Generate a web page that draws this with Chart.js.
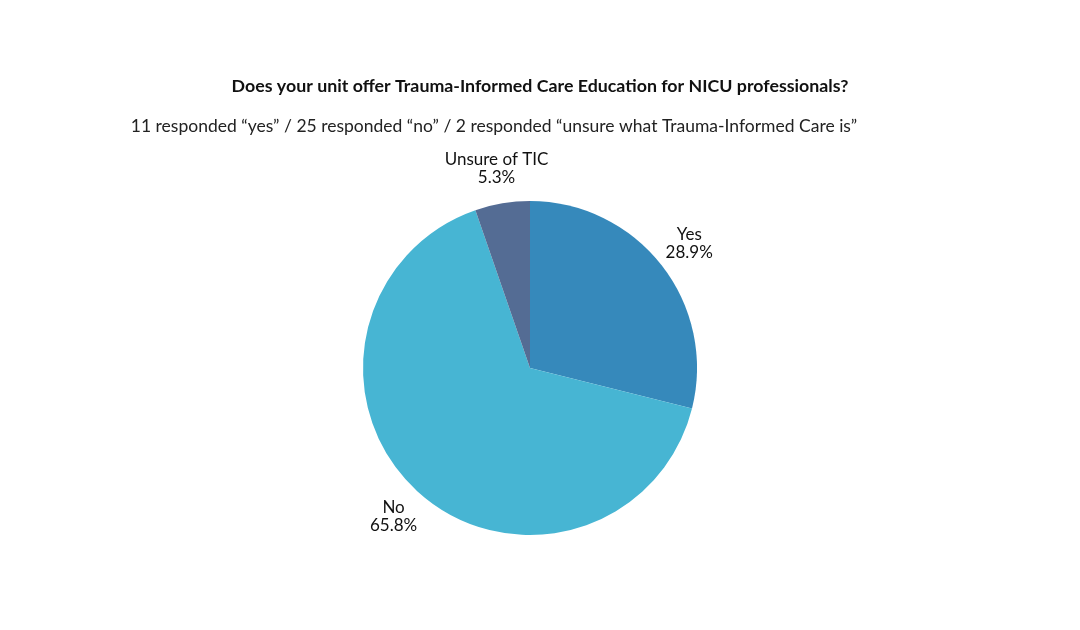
<!DOCTYPE html>
<html>
<head>
<meta charset="utf-8">
<script src="https://cdn.jsdelivr.net/npm/chart.js@4/dist/chart.umd.min.js"></script>
<style>
  html, body { margin: 0; padding: 0; background: #ffffff; }
  #wrap { width: 1080px; height: 630px; position: relative; }
</style>
</head>
<body>
<div id="wrap"><canvas id="pieChart" width="1080" height="630"></canvas></div>
<script>
const categories = ['Yes', 'No', 'Unsure of TIC'];
const percents = [28.9, 65.8, 5.3];
const sliceColors = ['#3689bb', '#47b5d3', '#546c94'];
const titleText = 'Does your unit offer Trauma-Informed Care Education for NICU professionals?';
const subtitleText = '11 responded \u201cyes\u201d / 25 responded \u201cno\u201d / 2 responded \u201cunsure what Trauma-Informed Care is\u201d';

const headerAndLabels = {
  id: 'headerAndLabels',
  afterDraw(chart) {
    const ctx = chart.ctx;
    ctx.save();
    ctx.fillStyle = '#111';
    ctx.textAlign = 'center';
    ctx.textBaseline = 'middle';
    ctx.font = 'bold 17.8px Lato';
    ctx.fillText(titleText, 540, 86);
    ctx.font = '17.5px Lato';
    ctx.fillStyle = '#222';
    ctx.fillText(subtitleText, 494, 126);

    ctx.font = '17px Lato';
    ctx.fillStyle = '#111';
    chart.getDatasetMeta(0).data.forEach((arc, i) => {
      const mid = (arc.startAngle + arc.endAngle) / 2;
      const d = arc.outerRadius + 35;
      const x = arc.x + Math.cos(mid) * d;
      const y = arc.y + Math.sin(mid) * d;
      ctx.fillText(categories[i], x, y - 9);
      ctx.fillText(percents[i].toFixed(1) + '%', x, y + 9);
    });
    ctx.restore();
  }
};

new Chart(document.getElementById('pieChart'), {
  type: 'pie',
  data: {
    labels: categories,
    datasets: [{
      data: percents,
      backgroundColor: sliceColors,
      borderWidth: 0
    }]
  },
  options: {
    responsive: false,
    animation: false,
    layout: { padding: { top: 201, bottom: 95, left: 0, right: 20 } },
    plugins: { legend: { display: false }, tooltip: { enabled: false } }
  },
  plugins: [headerAndLabels]
});
</script>
</body>
</html>
